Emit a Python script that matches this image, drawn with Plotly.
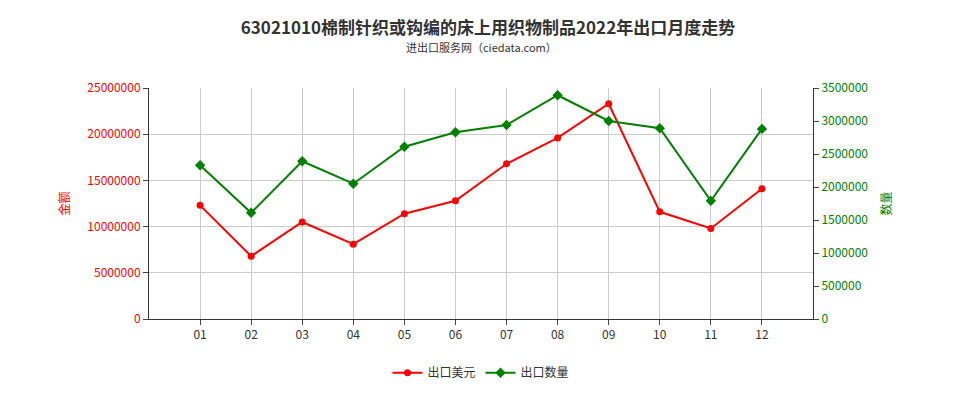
import plotly.graph_objects as go

months = ["01", "02", "03", "04", "05", "06", "07", "08", "09", "10", "11", "12"]
export_usd = [12300000, 6800000, 10500000, 8100000, 11400000, 12800000,
              16800000, 19600000, 23300000, 11600000, 9800000, 14100000]
export_qty = [2330000, 1610000, 2390000, 2050000, 2610000, 2830000,
              2940000, 3390000, 3000000, 2890000, 1790000, 2880000]

x = list(range(len(months)))

fig = go.Figure()
fig.add_trace(go.Scatter(x=x, y=export_usd, name="出口美元", mode="lines+markers",
                         line=dict(color="#ff0000", width=2), marker=dict(size=7)))
fig.add_trace(go.Scatter(x=x, y=export_qty, name="出口数量", mode="lines+markers", yaxis="y2",
                         line=dict(color="#008000", width=2),
                         marker=dict(size=8, symbol="diamond")))

fig.update_layout(
    width=960, height=400,
    paper_bgcolor="white", plot_bgcolor="white",
    font=dict(family="Noto Sans CJK SC", size=12, color="#333"),
    margin=dict(l=141, r=155, t=80, b=89),
    title=dict(text="<b>63021010棉制针织或钩编的床上用织物制品2022年出口月度走势</b>",
               x=0.5, y=0.95, yanchor="middle", xanchor="center",
               font=dict(size=17, color="#333")),
    annotations=[dict(text="进出口服务网（ciedata.com）", x=0.5, y=1.22, xref="paper", yref="paper",
                      showarrow=False, font=dict(size=11, color="#333"))],
    xaxis=dict(tickvals=x, ticktext=months, range=[-1, 12], showgrid=True, gridcolor="#ccc",
               showline=True, linecolor="#333", ticks="outside", zeroline=False),
    yaxis=dict(title=dict(text="金额", font=dict(color="#ff0000", size=12)), range=[0, 25000000],
               dtick=5000000, tickformat="d", tickfont=dict(color="#ff0000"),
               showgrid=True, gridcolor="#ccc", showline=True, linecolor="#333",
               ticks="outside", zeroline=False),
    yaxis2=dict(title=dict(text="数量", font=dict(color="#008000", size=12)), range=[0, 3500000],
                dtick=500000, tickformat="d", tickfont=dict(color="#008000"),
                overlaying="y", side="right", showgrid=False, showline=True,
                linecolor="#333", ticks="outside", zeroline=False),
    legend=dict(orientation="h", x=0.5, xanchor="center", y=-0.17, yanchor="top"),
)

fig.write_html("out.html")
